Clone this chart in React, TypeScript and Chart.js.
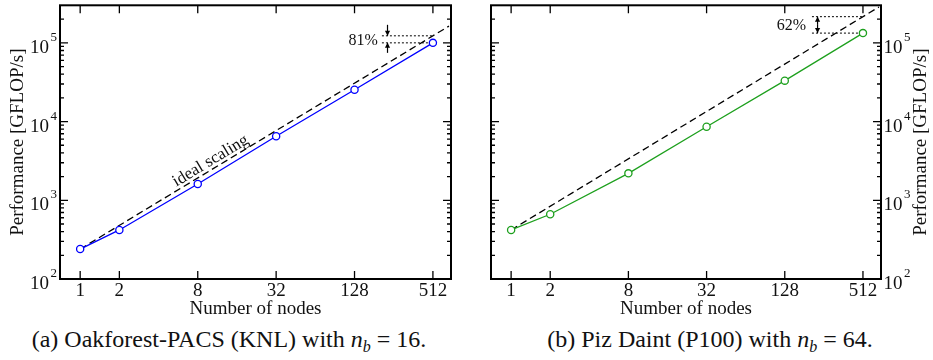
import React, { useEffect, useRef } from "react";
import { Chart, registerables } from "chart.js";

Chart.register(...registerables);

// ---- data ----
const nodes = [1, 2, 8, 32, 128, 512];
const perfKNL = [240, 420, 1610, 6500, 25400, 100000];
const perfP100 = [420, 664, 2200, 8600, 33100, 133000];
const idealNodes = [1, 680];
const idealKNL = [240, 163200];
const idealP100 = [420, 285600];
const xTickValues = [1, 2, 8, 32, 128, 512];
const yMajorValues = [100, 1000, 10000, 100000];
const yExponents = ["2", "3", "4", "5"];
const yMinorMultipliers = [2, 3, 4, 5, 6, 7, 8, 9];
const effKNL = { label: "81%", at: 512, upper: 122880, lower: 100000 };
const effP100 = { label: "62%", at: 512, upper: 215040, lower: 133000 };
const idealLabelAt = 10.8;
const X_MIN = 0.7;
const X_MAX = 705;
const Y_MIN = 100;
const Y_MAX = 300000;

const SERIF = "'Liberation Serif', 'Times New Roman', serif";

type PanelCfg = {
  side: "left" | "right";
  color: string;
  perf: number[];
  ideal: number[];
  eff: { label: string; at: number; upper: number; lower: number };
  idealLabel: boolean;
  twoArrows: boolean;
};

function arrowHead(ctx: CanvasRenderingContext2D, x: number, y0: number, y1: number) {
  ctx.beginPath();
  ctx.moveTo(x, y0);
  ctx.lineTo(x, y1);
  ctx.stroke();
  const dir = Math.sign(y1 - y0);
  ctx.beginPath();
  ctx.moveTo(x, y1);
  ctx.lineTo(x - 2.6, y1 - dir * 5);
  ctx.lineTo(x + 2.6, y1 - dir * 5);
  ctx.closePath();
  ctx.fill();
}

function makePlugin(cfg: PanelCfg) {
  return {
    id: "panelDeco",
    beforeDatasetsDraw(chart: any) {
      const ctx: CanvasRenderingContext2D = chart.ctx;
      const xs = chart.scales.x;
      const ys = chart.scales.y;
      const e = cfg.eff;
      const xp = xs.getPixelForValue(e.at);
      const yu = ys.getPixelForValue(e.upper);
      const yl = ys.getPixelForValue(e.lower);
      ctx.save();
      ctx.strokeStyle = "#000";
      ctx.fillStyle = "#000";
      ctx.lineWidth = 1;
      ctx.setLineDash([2, 2]);
      ctx.beginPath();
      ctx.moveTo(xp - 51, yu);
      ctx.lineTo(xp, yu);
      ctx.moveTo(xp - 51, yl);
      ctx.lineTo(xp, yl);
      ctx.stroke();
      ctx.setLineDash([]);
      ctx.lineWidth = 1.2;
      const ax = xp - 45.4;
      if (cfg.twoArrows) {
        const mid = (yu + yl) / 2;
        arrowHead(ctx, ax, mid, yu);
        arrowHead(ctx, ax, mid, yl);
      } else {
        arrowHead(ctx, ax, yu - 11, yu);
        arrowHead(ctx, ax, yl + 10, yl);
      }
      ctx.font = `16px ${SERIF}`;
      ctx.textAlign = "right";
      ctx.textBaseline = "middle";
      ctx.fillStyle = "#111";
      ctx.fillText(e.label, xp - (cfg.twoArrows ? 57 : 55), (yu + yl) / 2 + 1);
      ctx.restore();
    },
    afterDatasetsDraw(chart: any) {
      if (!cfg.idealLabel) return;
      const ctx: CanvasRenderingContext2D = chart.ctx;
      const xs = chart.scales.x;
      const ys = chart.scales.y;
      const x0 = xs.getPixelForValue(idealNodes[0]);
      const y0 = ys.getPixelForValue(cfg.ideal[0]);
      const x1 = xs.getPixelForValue(idealNodes[1]);
      const y1 = ys.getPixelForValue(cfg.ideal[1]);
      const ang = Math.atan2(y1 - y0, x1 - x0);
      const xc = xs.getPixelForValue(idealLabelAt);
      const t = (xc - x0) / (x1 - x0);
      const yc = y0 + t * (y1 - y0);
      ctx.save();
      ctx.translate(xc, yc);
      ctx.rotate(ang);
      ctx.font = `17px ${SERIF}`;
      ctx.fillStyle = "#111";
      ctx.textAlign = "center";
      ctx.textBaseline = "alphabetic";
      ctx.fillText("ideal scaling", 0, -3.5);
      ctx.restore();
    },
    afterDraw(chart: any) {
      const ctx: CanvasRenderingContext2D = chart.ctx;
      const { left, right, top, bottom } = chart.chartArea;
      const xs = chart.scales.x;
      const ys = chart.scales.y;
      ctx.save();
      ctx.strokeStyle = "#000";
      ctx.fillStyle = "#000";
      ctx.lineWidth = 1.3;
      ctx.beginPath();
      for (const v of xTickValues) {
        const px = xs.getPixelForValue(v);
        ctx.moveTo(px, bottom);
        ctx.lineTo(px, bottom - 8);
        ctx.moveTo(px, top);
        ctx.lineTo(px, top + 8);
      }
      for (const v of yMajorValues) {
        const py = ys.getPixelForValue(v);
        ctx.moveTo(left, py);
        ctx.lineTo(left + 8, py);
        ctx.moveTo(right, py);
        ctx.lineTo(right - 8, py);
      }
      for (const dec of yMajorValues) {
        for (const m of yMinorMultipliers) {
          const v = dec * m;
          if (v >= Y_MAX) continue;
          const py = ys.getPixelForValue(v);
          ctx.moveTo(left, py);
          ctx.lineTo(left + 4, py);
          ctx.moveTo(right, py);
          ctx.lineTo(right - 4, py);
        }
      }
      ctx.stroke();
      ctx.lineWidth = 2;
      ctx.strokeRect(left, top, right - left, bottom - top);

      // x tick labels
      ctx.fillStyle = "#111";
      ctx.font = `19px ${SERIF}`;
      ctx.textAlign = "center";
      ctx.textBaseline = "alphabetic";
      for (const v of xTickValues) {
        ctx.fillText(String(v), xs.getPixelForValue(v), bottom + 17);
      }
      // x title
      ctx.fillText("Number of nodes", (left + right) / 2, bottom + 35);

      // y tick labels
      yMajorValues.forEach((v, i) => {
        const py = ys.getPixelForValue(v);
        ctx.font = `19px ${SERIF}`;
        const wBase = ctx.measureText("10").width;
        ctx.font = `13px ${SERIF}`;
        const wExp = ctx.measureText(yExponents[i]).width;
        let xStart: number;
        if (cfg.side === "left") {
          xStart = left - 3 - wExp - 1.5 - wBase;
        } else {
          xStart = right + 2.5;
        }
        ctx.textAlign = "left";
        ctx.font = `19px ${SERIF}`;
        ctx.fillText("10", xStart, py + 10);
        ctx.font = `13px ${SERIF}`;
        ctx.fillText(yExponents[i], xStart + wBase + 1.5, py - 2);
      });

      // y title
      ctx.font = `19px ${SERIF}`;
      ctx.textAlign = "center";
      ctx.textBaseline = "middle";
      const tx = cfg.side === "left" ? left - 42 : right + 40;
      ctx.translate(tx, (top + bottom) / 2);
      ctx.rotate(-Math.PI / 2);
      ctx.fillText("Performance [GFLOP/s]", 0, 0);
      ctx.restore();
    },
  };
}

function Panel(props: {
  cfg: PanelCfg;
  width: number;
  left: number;
  padLeft: number;
  padRight: number;
  yWidth: number;
}) {
  const ref = useRef<HTMLCanvasElement | null>(null);
  useEffect(() => {
    if (!ref.current) return;
    const cfg = props.cfg;
    const chart = new Chart(ref.current, {
      type: "line",
      data: {
        datasets: [
          {
            data: nodes.map((n, i) => ({ x: n, y: cfg.perf[i] })),
            borderColor: cfg.color,
            backgroundColor: "#ffffff",
            borderWidth: 1.3,
            pointRadius: 3.6,
            pointBorderWidth: 1.3,
            pointBorderColor: cfg.color,
            pointBackgroundColor: "#ffffff",
            tension: 0,
            order: 0,
          },
          {
            data: idealNodes.map((n, i) => ({ x: n, y: cfg.ideal[i] })),
            borderColor: "#000",
            borderWidth: 1.3,
            borderDash: [7, 4],
            pointRadius: 0,
            tension: 0,
            order: 1,
          },
        ],
      },
      options: {
        responsive: false,
        animation: false,
        devicePixelRatio: 1,
        layout: { padding: { left: props.padLeft, right: props.padRight, top: 5, bottom: 0 } },
        plugins: { legend: { display: false }, tooltip: { enabled: false }, title: { display: false } },
        scales: {
          x: {
            type: "logarithmic",
            min: X_MIN,
            max: X_MAX,
            grid: { display: false },
            border: { display: false },
            ticks: { display: false },
            afterFit: (s: any) => {
              s.height = 41;
            },
          },
          y: {
            type: "logarithmic",
            position: cfg.side,
            min: Y_MIN,
            max: Y_MAX,
            grid: { display: false },
            border: { display: false },
            ticks: { display: false },
            afterFit: (s: any) => {
              s.width = props.yWidth;
            },
          },
        },
      } as any,
      plugins: [makePlugin(cfg)],
    });
    return () => chart.destroy();
  }, []);
  return (
    <canvas
      ref={ref}
      width={props.width}
      height={320}
      style={{ position: "absolute", left: props.left, top: 0, width: props.width, height: 320 }}
    />
  );
}

const capStyle: React.CSSProperties = {
  position: "absolute",
  top: 327,
  width: 500,
  textAlign: "center",
  fontFamily: SERIF,
  fontSize: 24,
  lineHeight: "24px",
  whiteSpace: "nowrap",
  color: "#111",
};
const subStyle: React.CSSProperties = { fontSize: 16, verticalAlign: "-5px", lineHeight: 0 };

export default function App() {
  const left: PanelCfg = {
    side: "left",
    color: "#0000ff",
    perf: perfKNL,
    ideal: idealKNL,
    eff: effKNL,
    idealLabel: true,
    twoArrows: false,
  };
  const right: PanelCfg = {
    side: "right",
    color: "#1ea01e",
    perf: perfP100,
    ideal: idealP100,
    eff: effP100,
    idealLabel: false,
    twoArrows: true,
  };
  return (
    <div style={{ position: "absolute", left: 0, top: 0, width: 933, height: 360, background: "#fff", overflow: "hidden" }}>
      <Panel cfg={left} width={466} left={0} padLeft={0} padRight={15} yWidth={60} />
      <Panel cfg={right} width={467} left={466} padLeft={25} padRight={0} yWidth={52} />
      <div style={{ ...capStyle, left: 229 - 250 }}>
        (a) Oakforest-PACS (KNL) with <i>n<sub style={subStyle}>b</sub></i> = 16.
      </div>
      <div style={{ ...capStyle, left: 710 - 250 }}>
        (b) Piz Daint (P100) with <i>n<sub style={subStyle}>b</sub></i> = 64.
      </div>
    </div>
  );
}
